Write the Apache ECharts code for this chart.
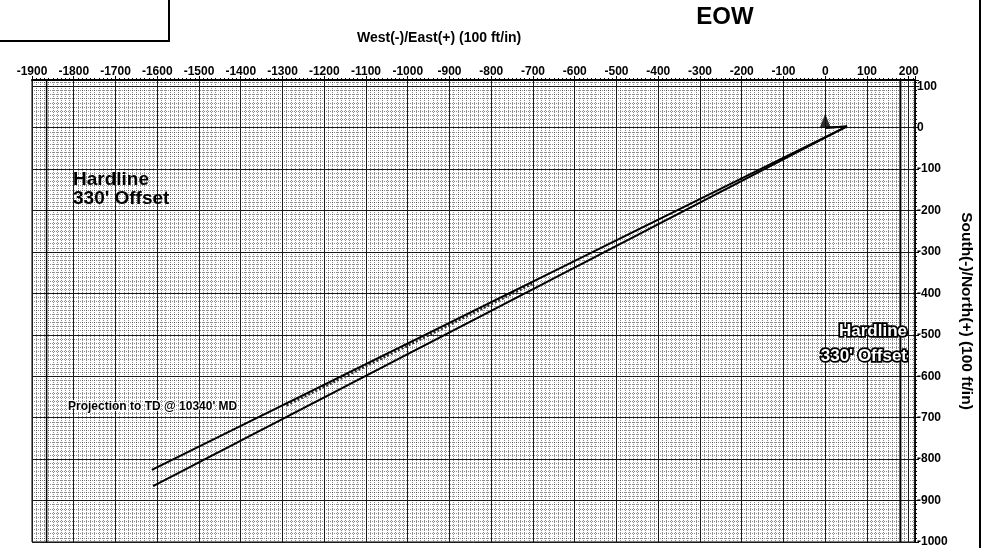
<!DOCTYPE html>
<html>
<head>
<meta charset="utf-8">
<script src="https://cdn.jsdelivr.net/npm/echarts@6/dist/echarts.min.js"></script>
<style>
  html, body { margin: 0; padding: 0; background: #fff; }
  #chart { width: 987px; height: 548px; }
</style>
</head>
<body>
<div id="chart"></div>
<script>
// East-West (x) and North-South (y) offsets, ft
const xTicks = [-1900, 200, 100];          // min, last label, step
const yTicks = [-1000, 100, 100];

// two well paths from surface (0,0), turning at the kick-off point
const planPath = [[0, 0], [52, 3], [-1613, -826]];
const actualPath = [[0, 0], [52, 3], [-1610, -865]];
// hatched survey stretch between them
const surveyPath = [[-1290, -670], [-1000, -526], [-700, -376]];
// hardline offsets (vertical)
const hardlineWest = [[-1865, 115], [-1865, -1000]];
const hardlineEast = [[180, 115], [180, -1000]];
// surface location marker
const surfacePoint = [[0, 0]];

const font = "'Liberation Sans', Arial, sans-serif";

const chart = echarts.init(document.getElementById('chart'));

const labelStyle = {
  margin: 2,
  showMaxLabel: false,
  color: '#000',
  fontFamily: font,
  fontWeight: 'bold',
  fontSize: 12,
  formatter: v => String(v)
};

const option = {
  animation: false,
  backgroundColor: '#fff',
  grid: {
    left: 32,
    right: 72,
    top: 80,
    bottom: 5,
    show: true,
    borderColor: '#000',
    borderWidth: 1
  },
  xAxis: {
    type: 'value',
    position: 'top',
    min: xTicks[0],
    max: 215,
    interval: xTicks[2],
    axisLine: { show: true, onZero: false, lineStyle: { color: '#000', width: 2 } },
    axisTick: { show: true, length: 4, lineStyle: { color: '#000' } },
    minorTick: { show: true, splitNumber: 10, length: 2, lineStyle: { color: '#000' } },
    axisLabel: labelStyle,
    splitLine: { show: true, lineStyle: { color: '#1a1a1a', width: 1 } },
    minorSplitLine: { show: true, lineStyle: { color: 'rgba(0,0,0,0.45)', width: 1, type: [1, 1] } }
  },
  yAxis: {
    type: 'value',
    position: 'right',
    min: yTicks[0],
    max: 115,
    interval: yTicks[2],
    name: 'South(-)/North(+) (100 ft/in)',
    nameLocation: 'middle',
    nameRotate: -90,
    nameGap: 37,
    nameTextStyle: { color: '#000', fontFamily: font, fontWeight: 'bold', fontSize: 15.5 },
    axisLine: { show: true, onZero: false, lineStyle: { color: '#000', width: 1.5 } },
    axisTick: { show: true, length: 4, lineStyle: { color: '#000' } },
    minorTick: { show: true, splitNumber: 10, length: 2, lineStyle: { color: '#000' } },
    axisLabel: labelStyle,
    splitLine: { show: true, lineStyle: { color: '#1a1a1a', width: 1 } },
    minorSplitLine: { show: true, lineStyle: { color: 'rgba(0,0,0,0.45)', width: 1, type: [1, 1] } }
  },
  series: [
    {
      name: 'Plan',
      type: 'line',
      data: planPath,
      symbol: 'none',
      lineStyle: { color: '#000', width: 2 },
      z: 5
    },
    {
      name: 'Actual',
      type: 'line',
      data: actualPath,
      symbol: 'none',
      lineStyle: { color: '#000', width: 2 },
      z: 5
    },
    {
      name: 'Survey',
      type: 'line',
      data: surveyPath,
      symbol: 'none',
      lineStyle: { color: '#333', width: 2.5, type: [2, 2] },
      z: 4
    },
    {
      name: 'Hardline W',
      type: 'line',
      data: hardlineWest,
      symbol: 'none',
      lineStyle: { color: '#000', width: 1.5 },
      z: 3
    },
    {
      name: 'Hardline E',
      type: 'line',
      data: hardlineEast,
      symbol: 'none',
      lineStyle: { color: '#000', width: 2 },
      z: 3
    },
    {
      name: 'Surface',
      type: 'scatter',
      data: surfacePoint,
      symbol: 'triangle',
      symbolSize: [11, 14],
      symbolOffset: [0, -7],
      itemStyle: { color: '#000' },
      z: 6
    }
  ],
  graphic: [
    {
      type: 'polyline',
      shape: { points: [[0, 41], [169, 41], [169, 0]] },
      style: { stroke: '#000', lineWidth: 2, fill: null }
    },
    {
      type: 'line',
      shape: { x1: 980, y1: 0, x2: 980, y2: 548 },
      style: { stroke: '#000', lineWidth: 2 }
    },
    {
      type: 'text',
      x: 725, y: 17,
      style: { text: 'EOW', fill: '#000', font: 'bold 24px ' + font, align: 'center', verticalAlign: 'middle' }
    },
    {
      type: 'text',
      x: 357, y: 38,
      style: { text: 'West(-)/East(+) (100 ft/in)', fill: '#000', font: 'bold 14px ' + font, align: 'left', verticalAlign: 'middle' }
    },
    {
      type: 'text',
      x: 73, y: 170, z: 10,
      style: { text: 'Hardline\n330\' Offset', fill: '#000', font: 'bold 19px ' + font, lineHeight: 19, align: 'left', verticalAlign: 'top' }
    },
    {
      type: 'text',
      x: 68, y: 407, z: 10,
      style: { text: 'Projection to TD @ 10340\' MD', fill: '#000', font: 'bold 12px ' + font, align: 'left', verticalAlign: 'middle',
        stroke: '#fff', lineWidth: 2 }
    },
    {
      type: 'text',
      x: 907, y: 331, z: 10,
      style: { text: 'Hardline', fill: '#fff', stroke: '#000', lineWidth: 3.5, font: 'bold 17px ' + font, align: 'right', verticalAlign: 'middle' }
    },
    {
      type: 'text',
      x: 907, y: 356, z: 10,
      style: { text: '330\' Offset', fill: '#fff', stroke: '#000', lineWidth: 3.5, font: 'bold 17px ' + font, align: 'right', verticalAlign: 'middle' }
    }
  ]
};

chart.setOption(option);
</script>
</body>
</html>
